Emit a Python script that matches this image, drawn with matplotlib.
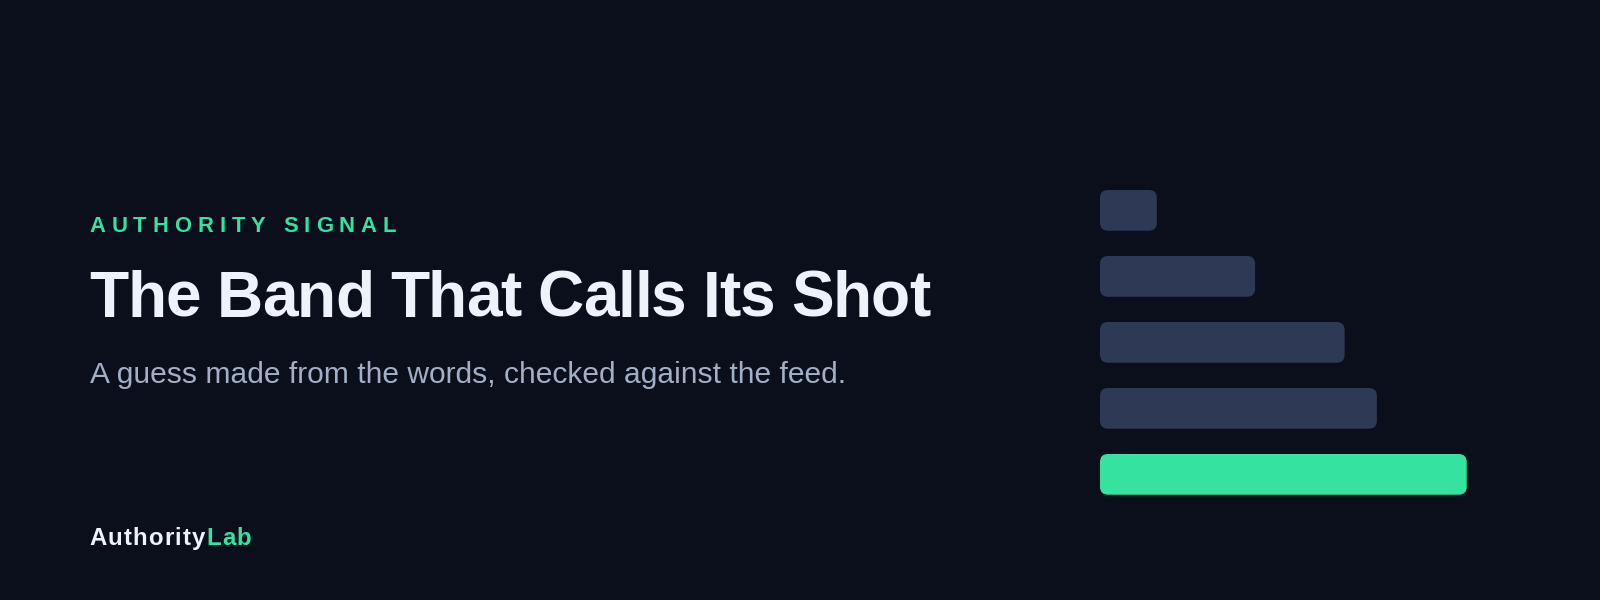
import matplotlib
matplotlib.use("Agg")
import matplotlib.pyplot as plt
from matplotlib import font_manager
from matplotlib.ft2font import FT2Font
from matplotlib.patches import FancyBboxPatch

# data
bar_values = [15.5, 42.3, 66.7, 75.5, 100]
bar_colors = ["#2e3a55", "#2e3a55", "#2e3a55", "#2e3a55", "#36e39e"]
kicker = "AUTHORITY SIGNAL"
title = "The Band That Calls Its Shot"
subtitle = "A guess made from the words, checked against the feed."
brand = ["Authority", "Lab"]

BG = "#0b0f1b"
GREEN = "#36e39e"
W, H = 1600, 600

plt.rcParams["font.family"] = ["Liberation Sans", "DejaVu Sans"]
fig = plt.figure(figsize=(16, 6), dpi=100, facecolor=BG)


def px(x, y):
    return x / W, 1 - y / H


def pt(p):
    return p * 72 / 100


def spaced(x, y, s, size, weight, color, spacing):
    # draw text glyph by glyph so letter spacing can be set (css-like)
    path = font_manager.findfont(font_manager.FontProperties(
        family="Liberation Sans", weight=weight))
    f = FT2Font(path)
    f.set_size(pt(size), 100)
    prev = None
    for ch in s:
        g = f.load_char(ord(ch))
        idx = f.get_char_index(ord(ch))
        if prev is not None:
            try:
                x += f.get_kerning(prev, idx, 0) / 64
            except Exception:
                pass
        fig.text(*px(x, y), ch, color=color, fontsize=pt(size),
                 fontweight=weight, va="baseline", ha="left")
        x += g.linearHoriAdvance / 65536 + spacing
        prev = idx
    return x


X0 = 89.5
spaced(X0, 232.2, kicker, 22, "bold", GREEN, 5.95)
spaced(X0, 316.7, title, 64, "bold", "#eef2fa", -1.0)
fig.text(*px(X0, 383.3), subtitle, color="#a3afc6", fontsize=pt(30),
         va="baseline", ha="left")
xe = spaced(X0, 545.3, brand[0], 24, "bold", "#eef2fa", 1.1)
spaced(xe, 545.3, brand[1], 24, "bold", GREEN, 1.1)

# bars
bar_w_px = 366.7
ax = fig.add_axes([1100 / W, (600 - 507.35) / H, bar_w_px / W, 330 / H])
ax.set_xlim(0, 100)
ax.set_ylim(4.5, -0.5)
ax.axis("off")
ax.patch.set_visible(False)

bh = 40.7 / 66
x_per_px = 100 / bar_w_px
y_per_px = 1 / 66
for i, (v, c) in enumerate(zip(bar_values, bar_colors)):
    p = FancyBboxPatch((0, i - bh / 2), v, bh,
                       boxstyle="round,pad=0,rounding_size=%f" % (8 * x_per_px),
                       mutation_aspect=y_per_px / x_per_px,
                       facecolor=c, edgecolor="none")
    ax.add_patch(p)

fig.savefig("out.png", dpi=100, facecolor=BG)
